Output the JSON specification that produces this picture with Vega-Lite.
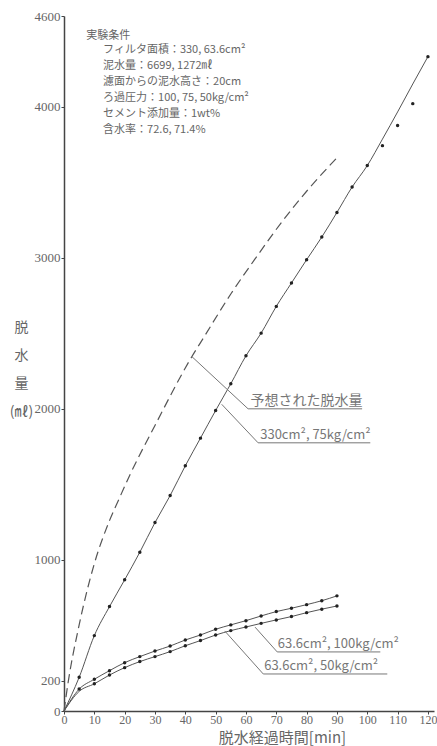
{
  "$schema": "https://vega.github.io/schema/vega-lite/v6.json",
  "autosize": {"type": "none"},
  "padding": {"left": 64, "top": 16, "right": 3, "bottom": 35},
  "width": 370,
  "height": 695,
  "background": "white",
  "config": {
    "view": {"stroke": null},
    "axis": {
      "grid": false,
      "domainColor": "#444",
      "domainWidth": 1.5,
      "tickColor": "#444",
      "tickWidth": 1,
      "tickSize": 3,
      "labelFont": "Liberation Sans Narrow",
      "labelFontSize": 13,
      "labelColor": "#666",
      "titleFont": "Noto Sans CJK JP",
      "titleFontWeight": "normal",
      "titleColor": "#666"
    }
  },
  "datasets": {
    "curves": [
      {"s": "330cm², 75kg/cm²", "t": 0, "v": 0}, {"s": "330cm², 75kg/cm²", "t": 5, "v": 223}, {"s": "330cm², 75kg/cm²", "t": 10, "v": 499}, {"s": "330cm², 75kg/cm²", "t": 15, "v": 691}, {"s": "330cm², 75kg/cm²", "t": 20, "v": 868}, {"s": "330cm², 75kg/cm²", "t": 25, "v": 1051}, {"s": "330cm², 75kg/cm²", "t": 30, "v": 1247}, {"s": "330cm², 75kg/cm²", "t": 35, "v": 1426}, {"s": "330cm², 75kg/cm²", "t": 40, "v": 1623}, {"s": "330cm², 75kg/cm²", "t": 45, "v": 1806}, {"s": "330cm², 75kg/cm²", "t": 50, "v": 1989}, {"s": "330cm², 75kg/cm²", "t": 55, "v": 2166}, {"s": "330cm², 75kg/cm²", "t": 60, "v": 2351}, {"s": "330cm², 75kg/cm²", "t": 65, "v": 2501}, {"s": "330cm², 75kg/cm²", "t": 70, "v": 2678}, {"s": "330cm², 75kg/cm²", "t": 75, "v": 2833}, {"s": "330cm², 75kg/cm²", "t": 80, "v": 2987}, {"s": "330cm², 75kg/cm²", "t": 85, "v": 3137}, {"s": "330cm², 75kg/cm²", "t": 90, "v": 3300}, {"s": "330cm², 75kg/cm²", "t": 95, "v": 3468}, {"s": "330cm², 75kg/cm²", "t": 100, "v": 3610}, {"s": "330cm², 75kg/cm²", "t": 105, "v": 3785}, {"s": "330cm², 75kg/cm²", "t": 110, "v": 3965}, {"s": "330cm², 75kg/cm²", "t": 115, "v": 4150}, {"s": "330cm², 75kg/cm²", "t": 120, "v": 4331},
      {"s": "63.6cm², 100kg/cm²", "t": 0, "v": 0}, {"s": "63.6cm², 100kg/cm²", "t": 5, "v": 145}, {"s": "63.6cm², 100kg/cm²", "t": 10, "v": 210}, {"s": "63.6cm², 100kg/cm²", "t": 15, "v": 267}, {"s": "63.6cm², 100kg/cm²", "t": 20, "v": 320}, {"s": "63.6cm², 100kg/cm²", "t": 25, "v": 360}, {"s": "63.6cm², 100kg/cm²", "t": 30, "v": 397}, {"s": "63.6cm², 100kg/cm²", "t": 35, "v": 430}, {"s": "63.6cm², 100kg/cm²", "t": 40, "v": 470}, {"s": "63.6cm², 100kg/cm²", "t": 45, "v": 503}, {"s": "63.6cm², 100kg/cm²", "t": 50, "v": 541}, {"s": "63.6cm², 100kg/cm²", "t": 55, "v": 570}, {"s": "63.6cm², 100kg/cm²", "t": 60, "v": 598}, {"s": "63.6cm², 100kg/cm²", "t": 65, "v": 629}, {"s": "63.6cm², 100kg/cm²", "t": 70, "v": 658}, {"s": "63.6cm², 100kg/cm²", "t": 75, "v": 680}, {"s": "63.6cm², 100kg/cm²", "t": 80, "v": 704}, {"s": "63.6cm², 100kg/cm²", "t": 85, "v": 730}, {"s": "63.6cm², 100kg/cm²", "t": 90, "v": 762},
      {"s": "63.6cm², 50kg/cm²", "t": 0, "v": 0}, {"s": "63.6cm², 50kg/cm²", "t": 5, "v": 130}, {"s": "63.6cm², 50kg/cm²", "t": 10, "v": 180}, {"s": "63.6cm², 50kg/cm²", "t": 15, "v": 238}, {"s": "63.6cm², 50kg/cm²", "t": 20, "v": 287}, {"s": "63.6cm², 50kg/cm²", "t": 25, "v": 327}, {"s": "63.6cm², 50kg/cm²", "t": 30, "v": 360}, {"s": "63.6cm², 50kg/cm²", "t": 35, "v": 393}, {"s": "63.6cm², 50kg/cm²", "t": 40, "v": 432}, {"s": "63.6cm², 50kg/cm²", "t": 45, "v": 466}, {"s": "63.6cm², 50kg/cm²", "t": 50, "v": 503}, {"s": "63.6cm², 50kg/cm²", "t": 55, "v": 532}, {"s": "63.6cm², 50kg/cm²", "t": 60, "v": 556}, {"s": "63.6cm², 50kg/cm²", "t": 65, "v": 580}, {"s": "63.6cm², 50kg/cm²", "t": 70, "v": 603}, {"s": "63.6cm², 50kg/cm²", "t": 75, "v": 625}, {"s": "63.6cm², 50kg/cm²", "t": 80, "v": 651}, {"s": "63.6cm², 50kg/cm²", "t": 85, "v": 674}, {"s": "63.6cm², 50kg/cm²", "t": 90, "v": 695}
    ],
    "predicted": [
      {"t": 0, "v": 0}, {"t": 1.4, "v": 194}, {"t": 5, "v": 570}, {"t": 10, "v": 975}, {"t": 15, "v": 1260}, {"t": 18, "v": 1397}, {"t": 22, "v": 1574}, {"t": 30, "v": 1890}, {"t": 42, "v": 2340}, {"t": 46, "v": 2470}, {"t": 55, "v": 2760}, {"t": 63.6, "v": 3009}, {"t": 72.4, "v": 3252}, {"t": 80, "v": 3440}, {"t": 90, "v": 3662}
    ],
    "points": [
      {"s": "330cm², 75kg/cm²", "t": 5, "v": 223}, {"s": "330cm², 75kg/cm²", "t": 10, "v": 499}, {"s": "330cm², 75kg/cm²", "t": 15, "v": 691}, {"s": "330cm², 75kg/cm²", "t": 20, "v": 868}, {"s": "330cm², 75kg/cm²", "t": 25, "v": 1051}, {"s": "330cm², 75kg/cm²", "t": 30, "v": 1247}, {"s": "330cm², 75kg/cm²", "t": 35, "v": 1426}, {"s": "330cm², 75kg/cm²", "t": 40, "v": 1623}, {"s": "330cm², 75kg/cm²", "t": 45, "v": 1806}, {"s": "330cm², 75kg/cm²", "t": 50, "v": 1989}, {"s": "330cm², 75kg/cm²", "t": 55, "v": 2166}, {"s": "330cm², 75kg/cm²", "t": 60, "v": 2351}, {"s": "330cm², 75kg/cm²", "t": 65, "v": 2501}, {"s": "330cm², 75kg/cm²", "t": 70, "v": 2678}, {"s": "330cm², 75kg/cm²", "t": 75, "v": 2833}, {"s": "330cm², 75kg/cm²", "t": 80, "v": 2987}, {"s": "330cm², 75kg/cm²", "t": 85, "v": 3137}, {"s": "330cm², 75kg/cm²", "t": 90, "v": 3300}, {"s": "330cm², 75kg/cm²", "t": 95, "v": 3468}, {"s": "330cm², 75kg/cm²", "t": 100, "v": 3610}, {"s": "330cm², 75kg/cm²", "t": 105, "v": 3742}, {"s": "330cm², 75kg/cm²", "t": 110, "v": 3875}, {"s": "330cm², 75kg/cm²", "t": 115, "v": 4020}, {"s": "330cm², 75kg/cm²", "t": 120, "v": 4331},
      {"s": "63.6cm², 100kg/cm²", "t": 5, "v": 145}, {"s": "63.6cm², 100kg/cm²", "t": 10, "v": 210}, {"s": "63.6cm², 100kg/cm²", "t": 15, "v": 267}, {"s": "63.6cm², 100kg/cm²", "t": 20, "v": 320}, {"s": "63.6cm², 100kg/cm²", "t": 25, "v": 360}, {"s": "63.6cm², 100kg/cm²", "t": 30, "v": 397}, {"s": "63.6cm², 100kg/cm²", "t": 35, "v": 430}, {"s": "63.6cm², 100kg/cm²", "t": 40, "v": 470}, {"s": "63.6cm², 100kg/cm²", "t": 45, "v": 503}, {"s": "63.6cm², 100kg/cm²", "t": 50, "v": 541}, {"s": "63.6cm², 100kg/cm²", "t": 55, "v": 570}, {"s": "63.6cm², 100kg/cm²", "t": 60, "v": 598}, {"s": "63.6cm², 100kg/cm²", "t": 65, "v": 629}, {"s": "63.6cm², 100kg/cm²", "t": 70, "v": 658}, {"s": "63.6cm², 100kg/cm²", "t": 75, "v": 680}, {"s": "63.6cm², 100kg/cm²", "t": 80, "v": 704}, {"s": "63.6cm², 100kg/cm²", "t": 85, "v": 730}, {"s": "63.6cm², 100kg/cm²", "t": 90, "v": 762},
      {"s": "63.6cm², 50kg/cm²", "t": 10, "v": 180}, {"s": "63.6cm², 50kg/cm²", "t": 15, "v": 238}, {"s": "63.6cm², 50kg/cm²", "t": 20, "v": 287}, {"s": "63.6cm², 50kg/cm²", "t": 25, "v": 327}, {"s": "63.6cm², 50kg/cm²", "t": 30, "v": 360}, {"s": "63.6cm², 50kg/cm²", "t": 35, "v": 393}, {"s": "63.6cm², 50kg/cm²", "t": 40, "v": 432}, {"s": "63.6cm², 50kg/cm²", "t": 45, "v": 466}, {"s": "63.6cm², 50kg/cm²", "t": 50, "v": 503}, {"s": "63.6cm², 50kg/cm²", "t": 55, "v": 532}, {"s": "63.6cm², 50kg/cm²", "t": 60, "v": 556}, {"s": "63.6cm², 50kg/cm²", "t": 65, "v": 580}, {"s": "63.6cm², 50kg/cm²", "t": 70, "v": 603}, {"s": "63.6cm², 50kg/cm²", "t": 75, "v": 625}, {"s": "63.6cm², 50kg/cm²", "t": 80, "v": 651}, {"s": "63.6cm², 50kg/cm²", "t": 85, "v": 674}, {"s": "63.6cm², 50kg/cm²", "t": 90, "v": 695}
    ],
    "leaders": [
      {"id": "a", "o": 1, "t": 42.2, "v": 2345}, {"id": "a", "o": 2, "t": 60.7, "v": 2000}, {"id": "a", "o": 3, "t": 98.3, "v": 2000},
      {"id": "b", "o": 1, "t": 52, "v": 2030}, {"id": "b", "o": 2, "t": 64, "v": 1775}, {"id": "b", "o": 3, "t": 101, "v": 1775},
      {"id": "c", "o": 1, "t": 63, "v": 555}, {"id": "c", "o": 2, "t": 70.3, "v": 391}, {"id": "c", "o": 3, "t": 104.3, "v": 391},
      {"id": "d", "o": 1, "t": 53, "v": 530}, {"id": "d", "o": 2, "t": 65.7, "v": 245}, {"id": "d", "o": 3, "t": 106.6, "v": 245}
    ],
    "labels": [
      {"label": "予想された脱水量", "t": 61.5, "v": 2026, "k": "j"},
      {"label": "330cm², 75kg/cm²", "t": 64.7, "v": 1801, "k": "n"},
      {"label": "63.6cm², 100kg/cm²", "t": 70.5, "v": 417, "k": "n"},
      {"label": "63.6cm², 50kg/cm²", "t": 66, "v": 272, "k": "n"}
    ],
    "conditions": [
      {"line": "実験条件", "t": 7.3, "v": 4450},
      {"line": ["フィルタ面積：330, 63.6cm²", "泥水量：6699, 1272㎖", "濾面からの泥水高さ：20cm", "ろ過圧力：100, 75, 50kg/cm²", "セメント添加量：1wt%", "含水率：72.6, 71.4%"], "t": 12.9, "v": 4358}
    ]
  },
  "encoding": {
    "x": {
      "field": "t", "type": "quantitative",
      "scale": {"domain": [0, 122], "nice": false, "zero": true},
      "axis": {
        "values": [0, 10, 20, 30, 40, 50, 60, 70, 80, 90, 100, 110, 120],
        "format": "d",
        "title": "脱水経過時間[min]",
        "titleFontSize": 15,
        "titleX": 218,
        "titleY": 26,
        "titleBaseline": "middle",
        "labelPadding": 0,
        "labelFontSize": 12,
        "labelFlush": false
      }
    },
    "y": {
      "field": "v", "type": "quantitative",
      "scale": {"domain": [0, 4600], "nice": false},
      "axis": {
        "values": [0, 200, 1000, 2000, 3000, 4000, 4600],
        "format": "d",
        "title": ["脱", "水", "量", "(㎖)"],
        "titleAngle": 0,
        "titleAlign": "center",
        "titleBaseline": "middle",
        "titleX": -43,
        "titleY": 311,
        "titleLineHeight": 28,
        "titleFontSize": 14,
        "labelPadding": 1,
        "labelFlush": false
      }
    }
  },
  "layer": [
    {
      "data": {"name": "curves"},
      "mark": {"type": "line", "interpolate": "monotone", "color": "#555", "strokeWidth": 1},
      "encoding": {"detail": {"field": "s"}}
    },
    {
      "data": {"name": "predicted"},
      "mark": {"type": "line", "interpolate": "monotone", "color": "#555", "strokeWidth": 1.2, "strokeDash": [9, 5]},
      "encoding": {}
    },
    {
      "data": {"name": "points"},
      "mark": {"type": "point", "filled": true, "color": "#222", "size": 12, "opacity": 1},
      "encoding": {}
    },
    {
      "data": {"name": "leaders"},
      "mark": {"type": "line", "color": "#777", "strokeWidth": 1},
      "encoding": {"detail": {"field": "id"}, "order": {"field": "o"}}
    },
    {
      "data": {"name": "labels"},
      "mark": {"type": "text", "align": "left", "baseline": "alphabetic", "font": "Noto Sans CJK JP", "color": "#777"},
      "encoding": {
        "text": {"field": "label"},
        "size": {"field": "k", "type": "nominal", "scale": {"domain": ["j", "n"], "range": [14, 13]}, "legend": null}
      }
    },
    {
      "data": {"name": "conditions"},
      "mark": {"type": "text", "align": "left", "baseline": "alphabetic", "font": "Noto Sans CJK JP", "fontSize": 11, "lineHeight": 16, "color": "#666"},
      "encoding": {"text": {"field": "line"}}
    }
  ]
}
